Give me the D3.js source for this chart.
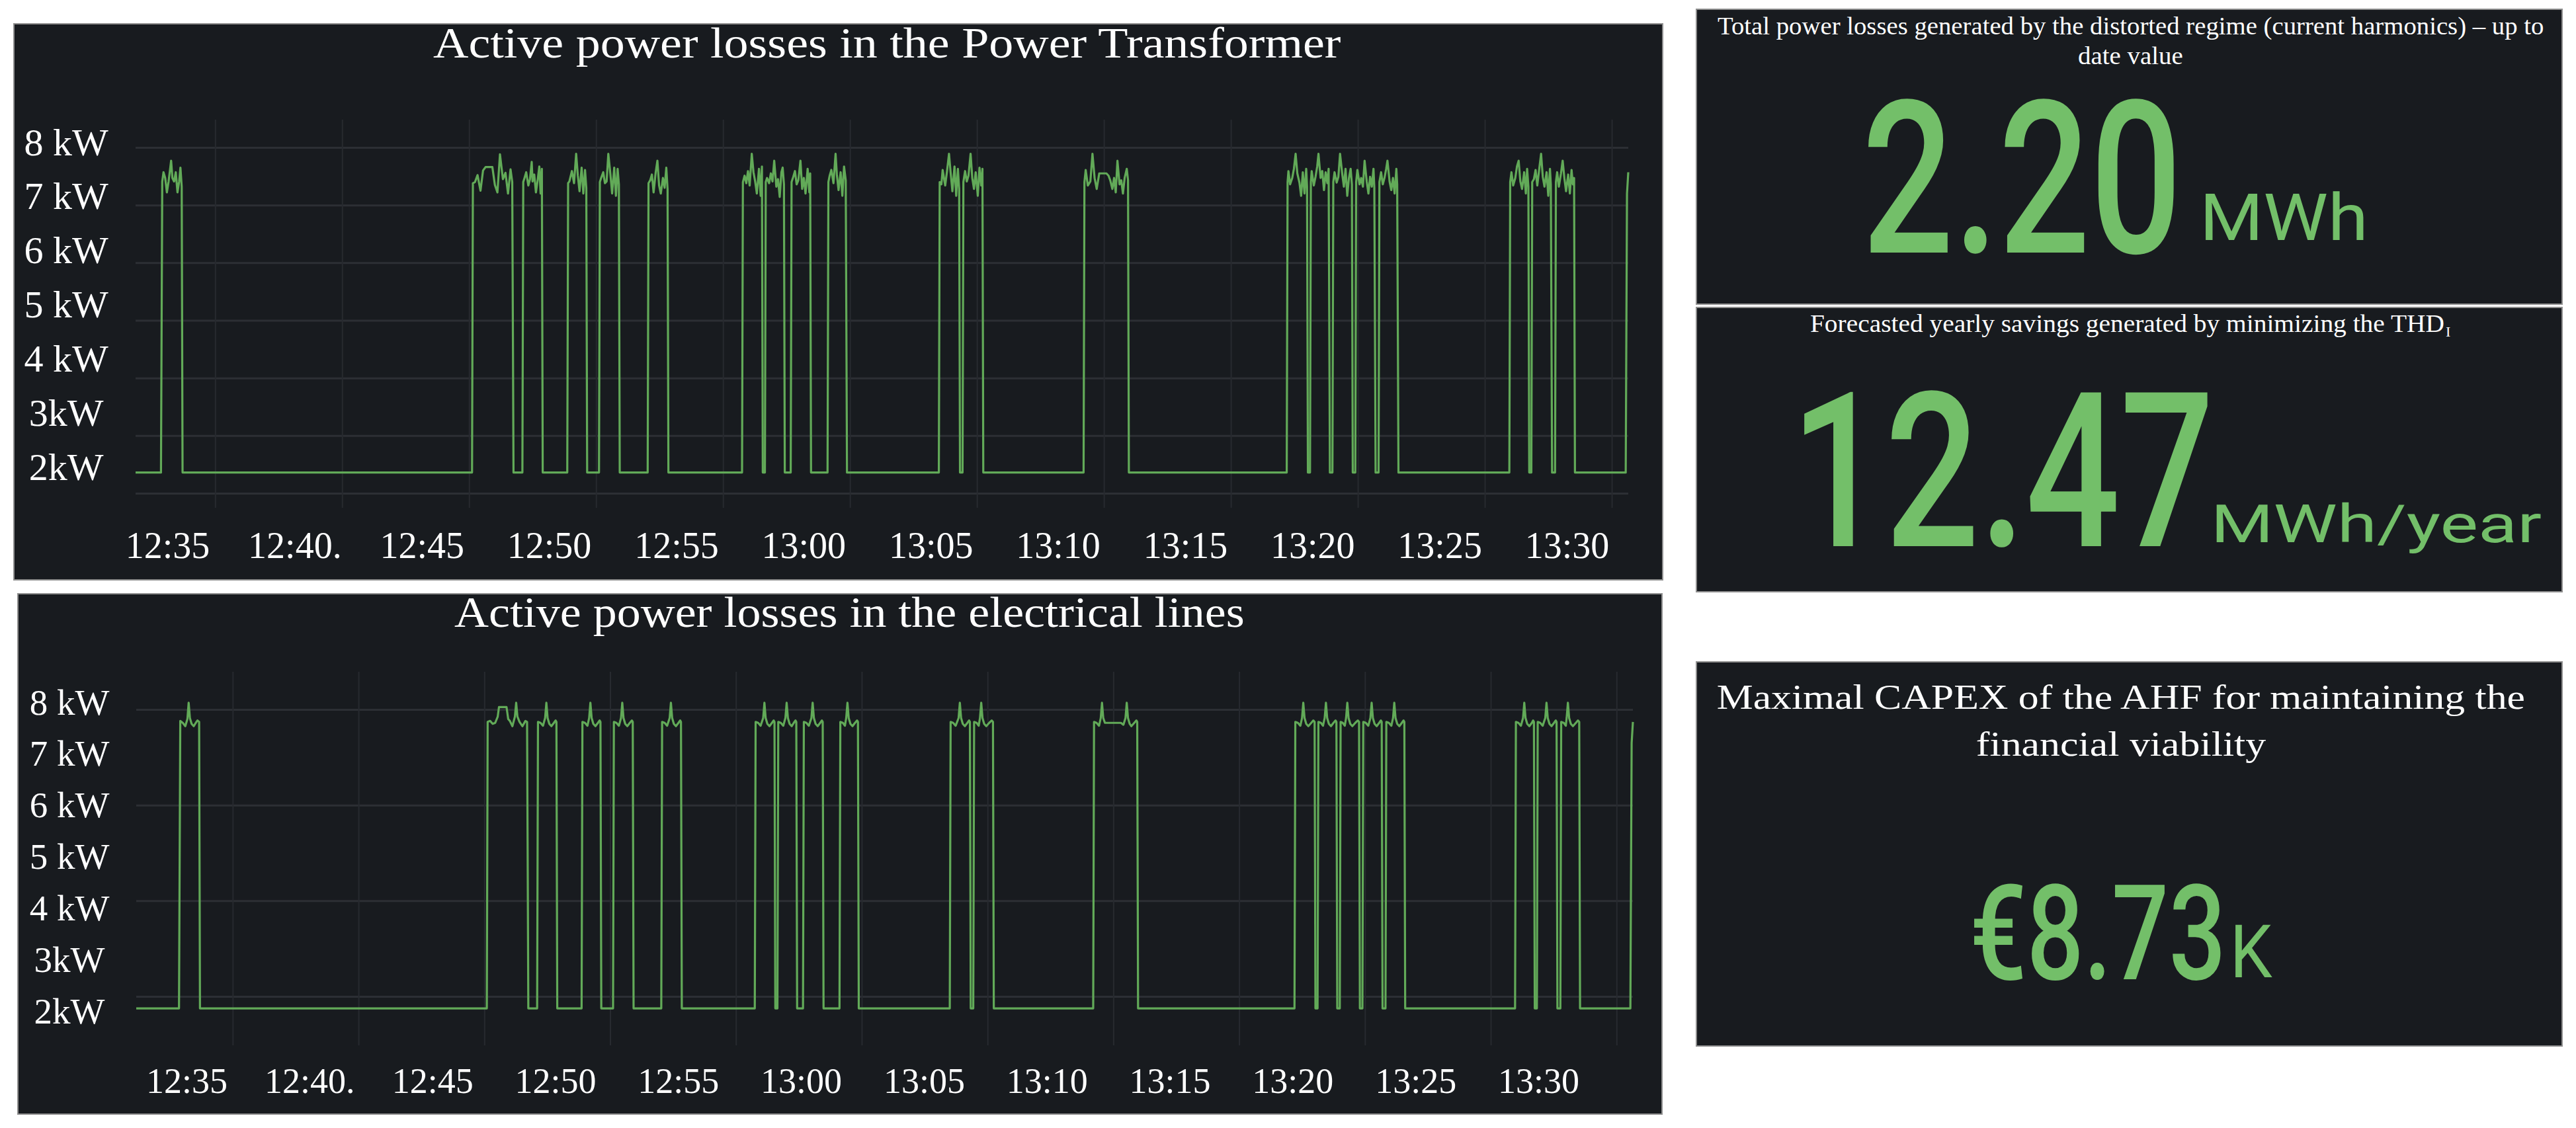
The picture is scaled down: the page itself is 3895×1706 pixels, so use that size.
<!DOCTYPE html>
<html>
<head>
<meta charset="utf-8">
<script src="https://cdn.jsdelivr.net/npm/d3@7"></script>
<style>
  html, body { margin: 0; padding: 0; background: #ffffff; }
  svg { display: block; }
</style>
</head>
<body>
<div id="dashboard"></div>
<script>
const WIDTH = 3895;
const HEIGHT = 1706;
const PANEL_BG = "#181b1f";
const PANEL_EDGE = "#8f8f8f";
const GRID_H = "#2c2f34";
const GRID_V = "#272a2f";
const LINE_COLOR = "#62aa58";
const STAT_GREEN = "#73bf69";
const SERIF = "'Liberation Serif', 'Times New Roman', serif";
const SANS = "Roboto, 'Noto Sans', sans-serif";

// x ticks (every 5 minutes) and the labels printed under them
const xTickTimes = ["12:35", "12:40", "12:45", "12:50", "12:55", "13:00",
                    "13:05", "13:10", "13:15", "13:20", "13:25", "13:30"];
const xTickLabels = ["12:35", "12:40.", "12:45", "12:50", "12:55", "13:00",
                     "13:05", "13:10", "13:15", "13:20", "13:25", "13:30"];
const yTickValues = [8, 7, 6, 5, 4, 3, 2];
const yTickLabels = ["8 kW", "7 kW", "6 kW", "5 kW", "4 kW", "3kW", "2kW"];
const transformerGrid = [8, 7, 6, 5, 4, 3, 2];
const linesGrid = [8, 6, 4, 2];

// [seconds after 12:35:00, kW]
const transformerKW = [
  [-188, 2.36],
  [-128, 2.36], [-125, 7.41], [-122, 7.57], [-118, 7.47], [-114, 7.22], [-110, 7.41], [-104, 7.77], [-101, 7.47], [-97, 7.41], [-93, 7.57], [-89, 7.22], [-85, 7.41], [-82, 7.65], [-79, 7.32], [-77, 2.36],
  [607, 2.36], [609, 7.38], [614, 7.40], [620, 7.52], [627, 7.25], [633, 7.60], [639, 7.66], [655, 7.66], [661, 7.35], [667, 7.22], [673, 7.88], [680, 7.45], [686, 7.56], [692, 7.20], [698, 7.62], [702, 7.40], [705, 2.36],
  [726, 2.36], [728, 7.40], [731, 7.47], [735, 7.57], [740, 7.34], [744, 7.45], [748, 7.75], [750, 7.41], [754, 7.53], [758, 7.22], [762, 7.43], [766, 7.67], [769, 7.20], [772, 7.63], [774, 2.36],
  [832, 2.36], [834, 7.38], [837, 7.41], [843, 7.59], [848, 7.38], [853, 7.89], [857, 7.51], [861, 7.24], [866, 7.65], [870, 7.20], [874, 7.61], [877, 7.30], [879, 2.36],
  [907, 2.36], [909, 7.40], [912, 7.47], [917, 7.57], [921, 7.38], [925, 7.41], [929, 7.89], [934, 7.53], [938, 7.20], [943, 7.65], [947, 7.16], [951, 7.63], [954, 7.36], [956, 2.36],
  [1022, 2.36], [1024, 7.38], [1028, 7.43], [1032, 7.53], [1036, 7.22], [1041, 7.57], [1045, 7.77], [1049, 7.34], [1053, 7.20], [1058, 7.47], [1062, 7.30], [1066, 7.65], [1069, 7.28], [1071, 2.36],
  [1245, 2.36], [1247, 7.40], [1251, 7.51], [1255, 7.38], [1259, 7.59], [1263, 7.34], [1268, 7.89], [1272, 7.57], [1276, 7.41], [1280, 7.20], [1285, 7.63], [1289, 7.16], [1292, 7.67], [1294, 2.36],
  [1299, 2.36], [1301, 7.40], [1304, 7.47], [1309, 7.38], [1313, 7.55], [1317, 7.41], [1321, 7.77], [1326, 7.32], [1330, 7.45], [1334, 7.14], [1338, 7.57], [1341, 7.65], [1344, 7.36], [1346, 2.36],
  [1360, 2.36], [1362, 7.40], [1366, 7.49], [1370, 7.59], [1374, 7.36], [1378, 7.43], [1383, 7.77], [1387, 7.28], [1391, 7.47], [1395, 7.20], [1400, 7.63], [1404, 7.22], [1406, 7.55], [1408, 2.36],
  [1447, 2.36], [1449, 7.40], [1452, 7.51], [1456, 7.61], [1461, 7.38], [1466, 7.89], [1469, 7.53], [1473, 7.26], [1478, 7.57], [1482, 7.16], [1486, 7.67], [1490, 7.43], [1493, 2.36],
  [1710, 2.36], [1712, 7.40], [1716, 7.36], [1719, 7.61], [1725, 7.34], [1729, 7.57], [1734, 7.89], [1738, 7.55], [1742, 7.24], [1747, 7.67], [1751, 7.16], [1755, 7.63], [1758, 7.28], [1760, 2.36],
  [1766, 2.36], [1768, 7.40], [1772, 7.59], [1776, 7.41], [1780, 7.51], [1785, 7.89], [1789, 7.47], [1793, 7.28], [1797, 7.57], [1802, 7.16], [1806, 7.65], [1810, 7.34], [1813, 7.63], [1815, 2.36],
  [2052, 2.36], [2054, 7.40], [2057, 7.61], [2062, 7.34], [2068, 7.41], [2073, 7.89], [2078, 7.47], [2083, 7.28], [2089, 7.55], [2094, 7.55], [2100, 7.55], [2106, 7.55], [2111, 7.51], [2115, 7.43], [2120, 7.28], [2124, 7.47], [2128, 7.22], [2132, 7.77], [2137, 7.36], [2141, 7.43], [2145, 7.20], [2149, 7.47], [2154, 7.63], [2157, 7.43], [2159, 2.36],
  [2532, 2.36], [2534, 7.40], [2536, 7.59], [2540, 7.36], [2545, 7.47], [2549, 7.63], [2553, 7.89], [2557, 7.55], [2562, 7.39], [2566, 7.16], [2570, 7.57], [2574, 7.20], [2578, 7.63], [2580, 7.32], [2582, 2.36],
  [2587, 2.36], [2589, 7.40], [2591, 7.59], [2596, 7.34], [2600, 7.49], [2604, 7.67], [2607, 7.89], [2612, 7.47], [2616, 7.59], [2620, 7.26], [2624, 7.57], [2628, 7.38], [2631, 7.63], [2634, 2.36],
  [2640, 2.36], [2642, 7.40], [2645, 7.57], [2650, 7.39], [2654, 7.49], [2658, 7.89], [2663, 7.55], [2667, 7.32], [2671, 7.63], [2675, 7.16], [2679, 7.47], [2683, 7.63], [2686, 7.36], [2688, 2.36],
  [2694, 2.36], [2696, 7.40], [2699, 7.61], [2704, 7.36], [2708, 7.47], [2712, 7.32], [2716, 7.77], [2721, 7.41], [2725, 7.20], [2729, 7.49], [2733, 7.32], [2737, 7.63], [2739, 7.30], [2742, 2.36],
  [2749, 2.36], [2751, 7.40], [2755, 7.57], [2759, 7.36], [2763, 7.47], [2767, 7.63], [2770, 7.77], [2775, 7.41], [2779, 7.26], [2783, 7.47], [2787, 7.20], [2791, 7.63], [2793, 7.36], [2796, 2.36],
  [3058, 2.36], [3060, 7.40], [3063, 7.57], [3067, 7.34], [3072, 7.47], [3076, 7.67], [3080, 7.77], [3084, 7.41], [3088, 7.28], [3093, 7.57], [3097, 7.20], [3100, 7.63], [3103, 7.32], [3105, 2.36],
  [3110, 2.36], [3112, 7.40], [3116, 7.45], [3120, 7.61], [3124, 7.34], [3129, 7.65], [3133, 7.89], [3137, 7.49], [3141, 7.32], [3146, 7.57], [3150, 7.16], [3154, 7.63], [3156, 7.36], [3159, 2.36],
  [3166, 2.36], [3168, 7.40], [3171, 7.57], [3175, 7.32], [3180, 7.55], [3184, 7.77], [3188, 7.47], [3192, 7.24], [3197, 7.53], [3201, 7.20], [3205, 7.61], [3208, 7.36], [3211, 7.47], [3213, 2.36],
  [3333, 2.36], [3336, 7.20], [3339, 7.57]
];

const linesKW = [
  [-230, 1.75],
  [-128, 1.75], [-125, 7.76], [-119, 7.72], [-113, 7.65], [-108, 7.80], [-105, 8.14], [-102, 7.82], [-98, 7.70], [-93, 7.65], [-88, 7.72], [-84, 7.77], [-80, 7.74], [-78, 1.75],
  [606, 1.75], [608, 7.74], [614, 7.76], [620, 7.70], [626, 7.72], [632, 7.85], [635, 8.05], [653, 8.05], [657, 7.80], [661, 7.76], [667, 7.65], [673, 7.85], [676, 8.14], [679, 7.85], [684, 7.74], [691, 7.65], [698, 7.76], [702, 7.74], [705, 1.75],
  [726, 1.75], [728, 7.74], [734, 7.72], [740, 7.66], [745, 7.82], [748, 8.14], [751, 7.82], [755, 7.70], [760, 7.65], [766, 7.72], [770, 7.77], [772, 7.74], [774, 1.75],
  [832, 1.75], [834, 7.74], [840, 7.72], [846, 7.66], [850, 7.82], [853, 8.14], [856, 7.82], [860, 7.70], [865, 7.65], [871, 7.72], [875, 7.77], [877, 7.74], [879, 1.75],
  [907, 1.75], [909, 7.74], [915, 7.72], [921, 7.66], [926, 7.82], [929, 8.14], [932, 7.82], [936, 7.70], [941, 7.65], [947, 7.72], [952, 7.77], [954, 7.74], [956, 1.75],
  [1022, 1.75], [1024, 7.74], [1030, 7.72], [1036, 7.66], [1042, 7.82], [1045, 8.14], [1048, 7.82], [1052, 7.70], [1057, 7.65], [1063, 7.72], [1067, 7.77], [1069, 7.74], [1071, 1.75],
  [1245, 1.75], [1247, 7.74], [1253, 7.72], [1259, 7.66], [1265, 7.82], [1268, 8.14], [1271, 7.82], [1275, 7.70], [1280, 7.65], [1286, 7.72], [1290, 7.77], [1292, 7.74], [1294, 1.75],
  [1299, 1.75], [1301, 7.74], [1307, 7.72], [1313, 7.66], [1318, 7.82], [1321, 8.14], [1324, 7.82], [1328, 7.70], [1333, 7.65], [1338, 7.72], [1342, 7.77], [1344, 7.74], [1346, 1.75],
  [1360, 1.75], [1362, 7.74], [1368, 7.72], [1374, 7.66], [1380, 7.82], [1383, 8.14], [1386, 7.82], [1390, 7.70], [1395, 7.65], [1401, 7.72], [1405, 7.77], [1407, 7.74], [1409, 1.75],
  [1447, 1.75], [1449, 7.74], [1455, 7.72], [1460, 7.66], [1463, 7.82], [1466, 8.14], [1469, 7.82], [1473, 7.70], [1478, 7.65], [1484, 7.72], [1489, 7.77], [1491, 7.74], [1493, 1.75],
  [1710, 1.75], [1712, 7.74], [1718, 7.72], [1724, 7.66], [1731, 7.82], [1734, 8.14], [1737, 7.82], [1741, 7.70], [1746, 7.65], [1752, 7.72], [1756, 7.77], [1758, 7.74], [1760, 1.75],
  [1766, 1.75], [1768, 7.74], [1774, 7.72], [1779, 7.66], [1782, 7.82], [1785, 8.14], [1788, 7.82], [1792, 7.70], [1797, 7.65], [1804, 7.72], [1810, 7.77], [1813, 7.74], [1815, 1.75],
  [2052, 1.75], [2054, 7.74], [2060, 7.72], [2066, 7.66], [2070, 7.82], [2073, 8.14], [2076, 7.82], [2080, 7.72], [2118, 7.72], [2124, 7.68], [2129, 7.82], [2132, 8.14], [2135, 7.82], [2139, 7.70], [2143, 7.65], [2150, 7.72], [2155, 7.77], [2157, 7.74], [2159, 1.75],
  [2532, 1.75], [2534, 7.74], [2540, 7.72], [2546, 7.66], [2550, 7.82], [2553, 8.14], [2556, 7.82], [2560, 7.70], [2565, 7.65], [2572, 7.72], [2577, 7.77], [2580, 7.74], [2582, 1.75],
  [2587, 1.75], [2589, 7.74], [2595, 7.72], [2600, 7.66], [2604, 7.82], [2607, 8.14], [2610, 7.82], [2614, 7.70], [2619, 7.65], [2625, 7.72], [2630, 7.77], [2632, 7.74], [2634, 1.75],
  [2640, 1.75], [2642, 7.74], [2647, 7.72], [2652, 7.66], [2655, 7.82], [2658, 8.14], [2661, 7.82], [2665, 7.70], [2670, 7.65], [2677, 7.72], [2683, 7.77], [2686, 7.74], [2688, 1.75],
  [2694, 1.75], [2696, 7.74], [2702, 7.72], [2708, 7.66], [2713, 7.82], [2716, 8.14], [2719, 7.82], [2723, 7.70], [2728, 7.65], [2734, 7.72], [2738, 7.77], [2740, 7.74], [2742, 1.75],
  [2749, 1.75], [2751, 7.74], [2757, 7.72], [2763, 7.66], [2767, 7.82], [2770, 8.14], [2773, 7.82], [2777, 7.70], [2782, 7.65], [2788, 7.72], [2792, 7.77], [2794, 7.74], [2796, 1.75],
  [3058, 1.75], [3060, 7.74], [3066, 7.72], [3072, 7.66], [3077, 7.82], [3080, 8.14], [3083, 7.82], [3087, 7.70], [3092, 7.65], [3098, 7.72], [3101, 7.77], [3103, 7.74], [3105, 1.75],
  [3110, 1.75], [3112, 7.74], [3118, 7.72], [3124, 7.66], [3130, 7.82], [3133, 8.14], [3136, 7.82], [3140, 7.70], [3145, 7.65], [3151, 7.72], [3155, 7.77], [3157, 7.74], [3159, 1.75],
  [3166, 1.75], [3168, 7.74], [3174, 7.72], [3179, 7.66], [3181, 7.82], [3184, 8.14], [3187, 7.82], [3191, 7.70], [3196, 7.65], [3203, 7.72], [3208, 7.77], [3211, 7.74], [3213, 1.75],
  [3333, 1.75], [3336, 7.30], [3339, 7.74]
];

const chartTitles = ["Active power losses in the Power Transformer",
                     "Active power losses in the electrical lines"];

const statTitles = [
  ["Total power losses generated by the distorted regime (current harmonics) \u2013 up to", "date value"],
  ["Forecasted yearly savings generated by minimizing the THD"],
  ["Maximal CAPEX of the AHF for maintaining the", "financial viability"]
];
const statValues = ["2.20", "12.47", "\u20ac8.73"];
const statUnits = ["MWh", "MWh/year", "K"];

const parseHM = d3.timeParse("%H:%M");
const T0 = parseHM("12:35");
const at = s => new Date(T0.getTime() + s * 1000);

const measureCtx = document.createElement("canvas").getContext("2d");

// draws a string squeezed or stretched so its ink runs from inkLeft to inkRight
function placeText(g, str, family, size, weight, inkLeft, inkRight, baseline, fill) {
  measureCtx.font = weight + " " + size + "px " + family;
  const m = measureCtx.measureText(str);
  const sx = (inkRight - inkLeft) / (m.actualBoundingBoxLeft + m.actualBoundingBoxRight);
  const x0 = inkLeft + m.actualBoundingBoxLeft * sx;
  return g.append("text")
    .attr("transform", "translate(" + x0 + "," + baseline + ") scale(" + sx + ",1)")
    .attr("font-family", family)
    .attr("font-size", size)
    .attr("font-weight", weight)
    .attr("fill", fill)
    .text(str);
}

function drawPanel(svg, box) {
  svg.append("rect")
    .attr("x", box[0]).attr("y", box[1])
    .attr("width", box[2]).attr("height", box[3])
    .attr("fill", PANEL_BG)
    .attr("stroke", PANEL_EDGE)
    .attr("stroke-width", 2);
}

function drawTimeSeries(svg, cfg) {
  drawPanel(svg, cfg.panel);
  const g = svg.append("g");

  const x = d3.scaleTime()
    .domain(d3.extent(cfg.data, d => at(d[0])))
    .range(cfg.plotX);
  const y = d3.scaleLinear().domain([2, 8]).range(cfg.plotY);
  const tickDates = xTickTimes.map(parseHM);

  g.append("g")
    .attr("transform", "translate(" + cfg.plotX[0] + ",0)")
    .call(d3.axisLeft(y).tickValues(cfg.grid).tickFormat("")
      .tickSize(-(cfg.plotX[1] - cfg.plotX[0])))
    .call(s => s.select(".domain").remove())
    .selectAll("line")
    .attr("stroke", GRID_H)
    .attr("stroke-width", 3);

  g.append("g")
    .attr("transform", "translate(0," + cfg.vGridY[1] + ")")
    .call(d3.axisBottom(x).tickValues(tickDates).tickFormat("")
      .tickSize(-(cfg.vGridY[1] - cfg.vGridY[0])))
    .call(s => s.select(".domain").remove())
    .selectAll("line")
    .attr("stroke", GRID_V)
    .attr("stroke-width", 2);

  const line = d3.line()
    .x(d => x(at(d[0])))
    .y(d => y(d[1]));

  g.append("path")
    .datum(cfg.data)
    .attr("d", line)
    .attr("fill", "none")
    .attr("stroke", LINE_COLOR)
    .attr("stroke-width", 3.2)
    .attr("stroke-linejoin", "round");

  // the printed labels sit a little off the grid, so they get their own scales
  const yLabel = d3.scaleLinear().domain([2, 8]).range(cfg.yLabelY);
  g.append("g")
    .attr("transform", "translate(" + cfg.yLabelX + ",0)")
    .call(d3.axisLeft(yLabel).tickValues(yTickValues).tickSize(0).tickPadding(0)
      .tickFormat((d, i) => yTickLabels[i]))
    .call(s => s.select(".domain").remove())
    .selectAll("text")
    .attr("x", 0)
    .attr("dy", "0.33em")
    .attr("text-anchor", "middle")
    .attr("fill", "#ffffff")
    .attr("font-family", SERIF)
    .attr("font-size", cfg.yLabelSize);

  const xLabel = d3.scaleTime()
    .domain([tickDates[0], tickDates[tickDates.length - 1]])
    .range(cfg.xLabelX);
  g.append("g")
    .attr("transform", "translate(0," + cfg.xLabelBase + ")")
    .call(d3.axisBottom(xLabel).tickValues(tickDates).tickSize(0).tickPadding(0)
      .tickFormat((d, i) => xTickLabels[i]))
    .call(s => s.select(".domain").remove())
    .selectAll("text")
    .attr("y", 0)
    .attr("dy", null)
    .attr("fill", "#ffffff")
    .attr("font-family", SERIF)
    .attr("font-size", cfg.xLabelSize);

  placeText(g, cfg.title, SERIF, cfg.titleSize, 400, cfg.titleInk[0], cfg.titleInk[1], cfg.titleBase, "#ffffff");
}

function drawStat(svg, cfg) {
  drawPanel(svg, cfg.panel);
  const g = svg.append("g");
  cfg.titleLines.forEach((ln, i) => {
    placeText(g, cfg.title[i], SERIF, ln.size, 400, ln.ink[0], ln.ink[1], ln.base, "#ffffff");
  });
  if (cfg.sub) {
    g.append("text")
      .attr("x", cfg.sub.x).attr("y", cfg.sub.base)
      .attr("font-family", SERIF).attr("font-size", cfg.sub.size)
      .attr("fill", "#ffffff")
      .text(cfg.sub.text);
  }
  placeText(g, cfg.value, SANS, cfg.valueSize, 500, cfg.valueInk[0], cfg.valueInk[1], cfg.valueBase, STAT_GREEN);
  placeText(g, cfg.unit, SANS, cfg.unitSize, 400, cfg.unitInk[0], cfg.unitInk[1], cfg.unitBase, STAT_GREEN);
}

function initDashboard() {
  const svg = d3.select("#dashboard")
    .append("svg")
    .attr("width", WIDTH)
    .attr("height", HEIGHT);

  svg.append("rect").attr("width", WIDTH).attr("height", HEIGHT).attr("fill", "#ffffff");

  drawTimeSeries(svg, {
    panel: [21, 36, 2493, 841],
    title: chartTitles[0], titleInk: [655, 2029], titleBase: 87, titleSize: 66,
    data: transformerKW, grid: transformerGrid,
    plotX: [205, 2462], plotY: [746, 223], vGridY: [181, 768],
    yLabelX: 100, yLabelY: [706, 215], yLabelSize: 58,
    xLabelX: [253, 2369], xLabelBase: 844, xLabelSize: 56
  });

  drawTimeSeries(svg, {
    panel: [27, 898, 2486, 787],
    title: chartTitles[1], titleInk: [687, 1880], titleBase: 948, titleSize: 66,
    data: linesKW, grid: linesGrid,
    plotX: [206, 2469], plotY: [1507, 1073], vGridY: [1016, 1581],
    yLabelX: 105, yLabelY: [1529, 1062], yLabelSize: 55,
    xLabelX: [282, 2326], xLabelBase: 1653, xLabelSize: 54
  });

  drawStat(svg, {
    panel: [2565, 14, 1309, 446],
    title: statTitles[0],
    titleLines: [{ ink: [2597, 3846], base: 52, size: 38 },
                 { ink: [3143, 3300], base: 97, size: 38 }],
    value: statValues[0], valueInk: [2823, 3290], valueBase: 382, valueSize: 323,
    unit: statUnits[0], unitInk: [3335, 3574], unitBase: 363, unitSize: 98
  });

  drawStat(svg, {
    panel: [2565, 465, 1309, 430],
    title: statTitles[1],
    titleLines: [{ ink: [2738, 3696], base: 502, size: 37 }],
    sub: { text: "I", x: 3698, base: 509, size: 22 },
    value: statValues[1], valueInk: [2727, 3339], valueBase: 826, valueSize: 327,
    unit: statUnits[1], unitInk: [3351, 3842], unitBase: 820, unitSize: 79
  });

  drawStat(svg, {
    panel: [2565, 1001, 1309, 581],
    title: statTitles[2],
    titleLines: [{ ink: [2597, 3820], base: 1072, size: 53 },
                 { ink: [2989, 3427], base: 1143, size: 53 }],
    value: statValues[2], valueInk: [2985, 3358], valueBase: 1481, valueSize: 201,
    unit: statUnits[2], unitInk: [3380, 3436], unitBase: 1478, unitSize: 111
  });
}

initDashboard();
</script>
</body>
</html>
